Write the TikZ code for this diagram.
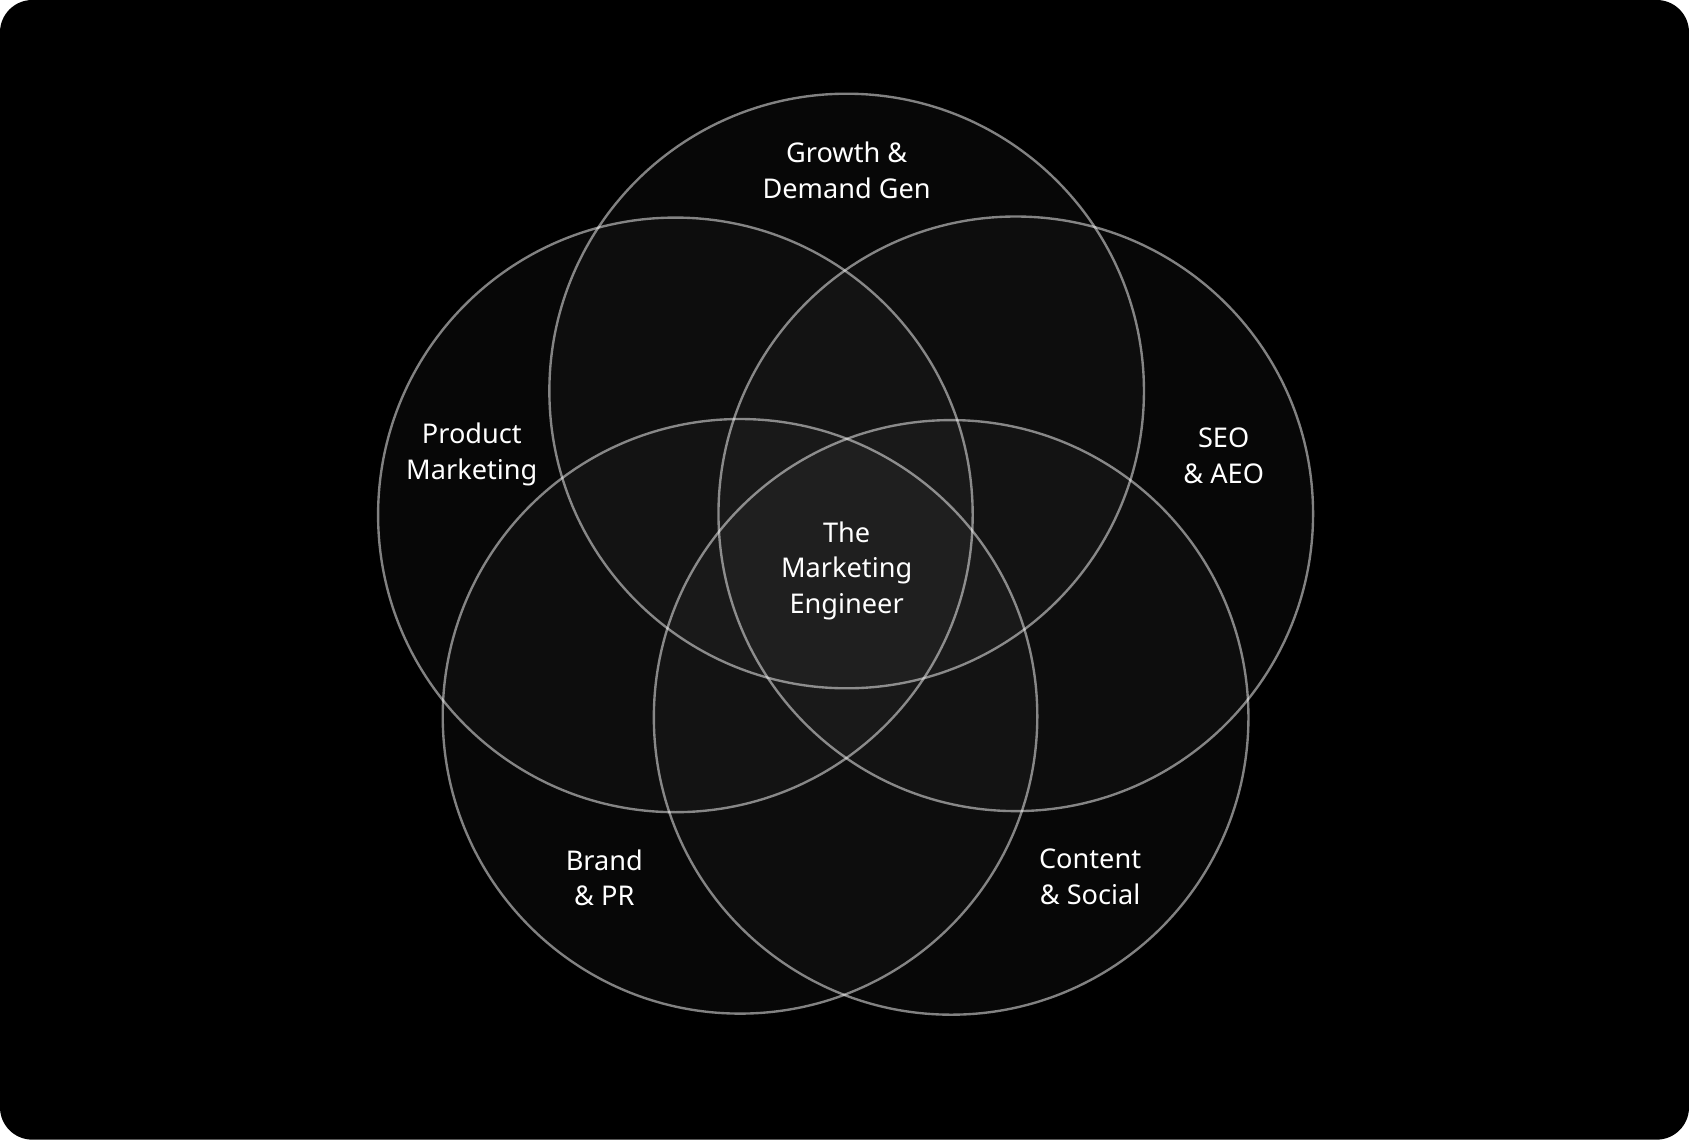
\documentclass[tikz,border=0pt]{standalone}
\usepackage{fontspec}
\setmainfont{Noto Sans}
\begin{document}
\begin{tikzpicture}[x=0.5pt,y=-0.5pt,
  ring/.style={draw=white,draw opacity=0.5,line width=1.1pt,fill=white,fill opacity=0.028},
  lab/.style={text=white,align=center,font=\fontsize{12.6}{16.5}\selectfont}]
\fill[white] (0,0) rectangle (1568,1058);
\fill[black,rounded corners=15pt] (0,0) rectangle (1568,1058);
\useasboundingbox (0,0) rectangle (1568,1058);
\foreach \n/\x/\y in {gt/786/363,pm/627/478,seo/943/477,br/687/665,cs/883/666}
  \draw[ring] (\x,\y) circle (276);
\node[lab] (g) at (786,158) {Growth \&\\Demand Gen};
\node[lab] (p) at (438,422) {Product\\Marketing};
\node[lab] (s) at (1136,423) {SEO\\\& AEO};
\node[lab] (b) at (561,815) {Brand\\\& PR};
\node[lab] (c) at (1012,814) {Content\\\& Social};
\node[lab] (m) at (786,530) {The\\Marketing\\Engineer};
\end{tikzpicture}
\end{document}
